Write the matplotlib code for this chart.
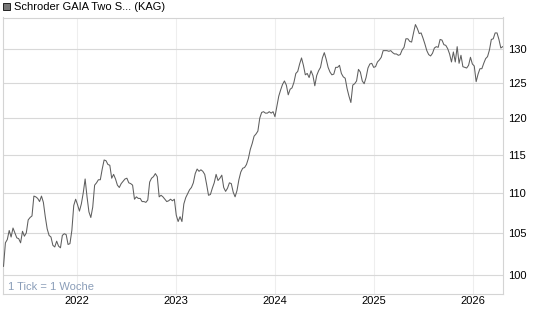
import pandas as pd
import matplotlib
matplotlib.use('Agg')
import matplotlib.pyplot as plt
from matplotlib.patches import Rectangle
from matplotlib.ticker import FixedLocator, FixedFormatter, NullLocator

plt.rcParams['font.family'] = ['Liberation Sans', 'DejaVu Sans']

title = 'Schroder GAIA Two S... (KAG)'
note = '1 Tick = 1 Woche'
start = '2021-04-05'
# weekly values
values = [
    101.0, 103.8, 104.2, 105.3, 104.5, 105.6, 105.0, 104.4, 104.3, 103.8,
    105.2, 104.6, 105.0, 106.6, 106.9, 107.1, 109.6, 109.5, 109.3, 108.9,
    109.6, 108.8, 107.0, 105.5, 104.7, 104.5, 103.5, 103.3, 104.0, 103.4,
    103.2, 104.7, 104.9, 104.8, 103.6, 103.7, 105.3, 108.4, 109.2, 108.5,
    107.7, 108.6, 110.0, 111.8, 109.5, 107.6, 106.9, 108.2, 111.0, 111.3,
    111.7, 111.7, 113.1, 114.3, 114.2, 113.7, 113.6, 111.9, 112.4, 111.8,
    111.0, 110.7, 111.2, 111.5, 111.8, 111.9, 111.3, 111.2, 111.0, 109.2,
    109.5, 109.3, 109.3, 108.9, 108.9, 108.8, 109.1, 111.4, 111.9, 112.1,
    112.5, 112.1, 109.5, 109.7, 109.5, 109.2, 108.9, 109.0, 109.2, 109.0,
    109.2, 107.2, 106.4, 107.0, 106.4, 108.6, 109.4, 109.9, 110.4, 110.7,
    111.3, 112.5, 113.1, 112.8, 113.0, 112.8, 112.4, 111.1, 109.7, 109.8,
    110.6, 111.3, 112.4, 111.6, 111.9, 112.3, 110.7, 110.2, 110.6, 111.3,
    111.2, 110.1, 109.5, 110.3, 111.7, 112.7, 113.2, 113.3, 113.7, 114.5,
    115.7, 116.5, 117.5, 117.8, 118.2, 120.0, 120.8, 120.9, 120.7, 120.7,
    120.9, 120.7, 120.9, 120.2, 121.6, 123.1, 124.0, 124.8, 125.3, 124.7,
    123.3, 124.1, 124.3, 125.1, 126.4, 126.7, 127.8, 128.7, 127.6, 126.2,
    126.4, 125.8, 126.8, 126.1, 124.6, 126.1, 126.8, 127.3, 128.7, 129.5,
    128.5, 127.3, 126.6, 126.2, 126.3, 127.3, 127.3, 127.6, 126.4, 125.9,
    125.7, 124.2, 123.1, 122.2, 124.7, 124.9, 125.3, 127.0, 126.6, 125.3,
    124.9, 125.8, 127.2, 127.8, 127.9, 127.3, 127.4, 128.1, 128.4, 128.8,
    129.8, 129.8, 129.8, 129.7, 129.8, 129.5, 129.3, 129.3, 129.1, 129.2,
    129.9, 130.3, 131.6, 131.6, 131.2, 131.1, 132.5, 133.8, 133.2, 132.4,
    132.5, 131.7, 130.8, 129.8, 129.2, 129.0, 129.4, 130.2, 130.4, 130.3,
    131.5, 131.4, 130.7, 130.6, 130.1, 129.3, 128.1, 129.6, 128.1, 130.4,
    127.9, 129.1, 127.4, 127.3, 127.2, 127.6, 128.8, 127.8, 127.5, 125.2,
    126.3, 127.1, 127.1, 127.9, 128.6, 128.9, 129.9, 131.5, 131.6, 132.5,
    132.5, 131.5, 130.2, 130.4,
]
yticks = [100, 105, 110, 115, 120, 125, 130]
years = [2022, 2023, 2024, 2025, 2026]

dates = pd.date_range(start, periods=len(values), freq='7D')

W, H = 545, 327
fig = plt.figure(figsize=(W / 100, H / 100), dpi=100)
ax = fig.add_axes([2.7 / W, 1 - 294 / H, (503 - 2.7) / W, (294 - 17.5) / H])

ax.plot(dates, values, color='#5e5e5e', lw=0.75, zorder=3)

ax.set_yscale('log')
ax.set_ylim(97.8, 134.9)
ax.set_xlim(pd.Timestamp('2021-04-02'), pd.Timestamp('2026-04-21'))

ax.yaxis.set_major_locator(FixedLocator(yticks))
ax.yaxis.set_major_formatter(FixedFormatter([str(t) for t in yticks]))
ax.yaxis.set_minor_locator(NullLocator())
ax.yaxis.tick_right()

ax.set_xticks([pd.Timestamp(f'{y}-01-01') for y in years])
ax.set_xticklabels([str(y) for y in years])

ax.tick_params(axis='y', length=0, pad=4, labelsize=8, colors='black')
ax.tick_params(axis='x', length=0, pad=1.5, labelsize=8, colors='black')

ax.grid(axis='y', color='#d8d8d8', lw=0.8)
ax.grid(axis='x', color='#eeeeee', lw=0.8)
ax.set_axisbelow(True)
for s in ax.spines.values():
    s.set_color('#d4d4d4')
    s.set_linewidth(0.8)

fig.text(8.4 / W, 1 - 287.5 / H, note, va='center', ha='left',
         color='#8a9db8', fontsize=8)

fig.patches.append(Rectangle((3 / W, 1 - 10 / H), 7 / W, 7 / H,
                             transform=fig.transFigure, facecolor='#777777',
                             edgecolor='#222222', lw=0.7))
fig.text(13.5 / W, 1 - 6.5 / H, title, va='center', ha='left',
         color='black', fontsize=8)

fig.savefig('out.png', dpi=100)
